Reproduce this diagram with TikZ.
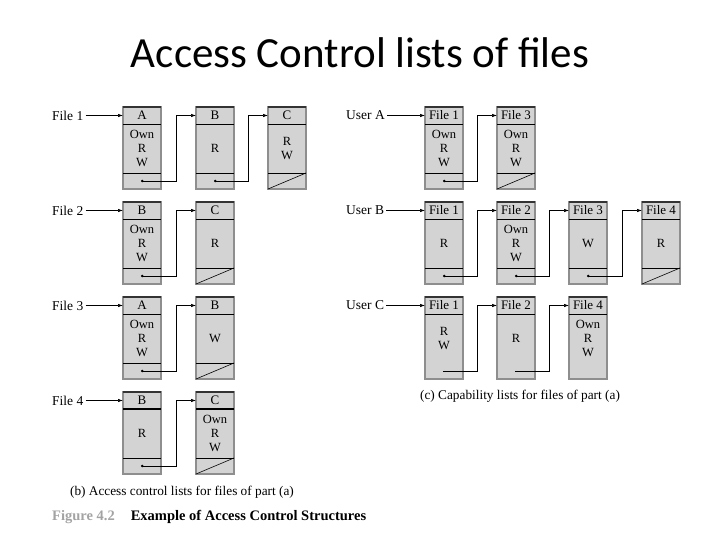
\documentclass[tikz,border=0pt]{standalone}
\usepackage{fontspec}
\setmainfont{Liberation Serif}
\newfontfamily\titlefont{Carlito}
\usepackage{tikz}
\usetikzlibrary{arrows.meta,calc}
\usepackage{xcolor}
\definecolor{CellGray}{HTML}{D3D3D3}
\definecolor{EdgeGray}{HTML}{8E8E8E}
\definecolor{CapGray}{HTML}{A3A3A3}

% one list entry: name, x, y of top, header, body, style of the tail line
\newcommand{\aclbox}[6]{%
  \node[boxframe,anchor=north west] (#1) at (#2,#3) {};
  \draw[topedge] (#1.north west) -- (#1.north east);
  \coordinate (#1-in) at ($(#1.north west)+(0,-8.5)$);
  \coordinate (#1-j) at ($(#1-in)+(-20,0)$);
  \coordinate (#1-d) at ($(#1.south)+(-1,8)$);
  \coordinate (#1-tr) at ($(#1.south east)+(0,16)$);
  \draw[divider] ($(#1.north west)+(0,-17)$) -- ($(#1.north east)+(0,-17)$);
  \draw[#6] ($(#1.south west)+(0,16)$) -- (#1-tr);
  \node[headtext] (#1-h) at ($(#1.north)+(0,-8.5)$) {#4};
  \node[celltext] (#1-b) at ($(#1.center)+(0,-0.5)$) {#5};
}

\begin{document}
\begin{tikzpicture}[x=1pt,y=1pt,>={Latex[length=5pt,width=3.5pt]},
  boxframe/.style={draw=EdgeGray,fill=CellGray,line width=1.4pt,outer sep=0pt,
    inner sep=0pt,minimum width=38pt,minimum height=82pt},
  topedge/.style={draw=black!80,line width=1.6pt},
  divider/.style={draw=black,line width=0.6pt},
  notail/.style={draw=none},
  headtext/.style={font=\fontsize{13}{14}\selectfont,inner sep=0pt},
  celltext/.style={align=center,font=\fontsize{12.5}{14}\selectfont,inner sep=0pt},
  lbl/.style={font=\fontsize{13.5}{15}\selectfont,inner sep=2pt},
  link/.style={line width=0.7pt,{Circle[length=2.4pt]}->},
  linknd/.style={line width=0.7pt,->},
  nilline/.style={line width=0.6pt},
  caption/.style={font=\fontsize{13.3}{15}\selectfont}]
\useasboundingbox (0,0) rectangle (720,540);

\node[font=\titlefont\fontsize{43}{48}\selectfont,anchor=base] (title) at (360,472) {Access Control lists of files};

% (b) access control lists
\aclbox{l11}{123}{433}{A}{Own\\R\\W}{divider}
\aclbox{l12}{196}{433}{B}{R}{divider}
\aclbox{l13}{268}{433}{C}{R\\W}{divider}
\aclbox{l21}{123}{338}{B}{Own\\R\\W}{divider}
\aclbox{l22}{196}{338}{C}{R}{divider}
\aclbox{l31}{123}{243}{A}{Own\\R\\W}{divider}
\aclbox{l32}{196}{243}{B}{W}{divider}
\aclbox{l41}{123}{148}{B}{R}{divider}
\aclbox{l42}{196}{148}{C}{Own\\R\\W}{divider}
\draw[divider,line width=1.5pt] ($(l41.north west)+(0,-17)$) -- ($(l41.north east)+(0,-17)$);
\draw[divider,line width=1.5pt] ($(l42.north west)+(0,-17)$) -- ($(l42.north east)+(0,-17)$);

\node[lbl,anchor=west] (f1) at (50,424.5) {File 1};
\node[lbl,anchor=west] (f2) at (50,329.5) {File 2};
\node[lbl,anchor=west] (f3) at (50,234.5) {File 3};
\node[lbl,anchor=west] (f4) at (50,139.5) {File 4};

\draw[->,line width=0.7pt] (f1) -- (l11-in);
\draw[->,line width=0.7pt] (f2) -- (l21-in);
\draw[->,line width=0.7pt] (f3) -- (l31-in);
\draw[->,line width=0.7pt] (f4) -- (l41-in);
\draw[link] (l11-d) -| (l12-j) -- (l12-in);
\draw[link] (l12-d) -| (l13-j) -- (l13-in);
\draw[link] (l21-d) -| (l22-j) -- (l22-in);
\draw[link] (l31-d) -| (l32-j) -- (l32-in);
\draw[link] (l41-d) -| (l42-j) -- (l42-in);
\draw[nilline] (l13.south west) -- (l13-tr);
\draw[nilline] (l22.south west) -- (l22-tr);
\draw[nilline] (l32.south west) -- (l32-tr);
\draw[nilline] (l42.south west) -- (l42-tr);

% (c) capability lists
\aclbox{c11}{425}{433}{File 1}{Own\\R\\W}{divider}
\aclbox{c12}{497}{433}{File 3}{Own\\R\\W}{divider}
\aclbox{c21}{425}{338}{File 1}{R}{divider}
\aclbox{c22}{497}{338}{File 2}{Own\\R\\W}{divider}
\aclbox{c23}{569}{338}{File 3}{W}{divider}
\aclbox{c24}{642}{338}{File 4}{R}{divider}
\aclbox{c31}{425}{243}{File 1}{R\\W}{notail}
\aclbox{c32}{497}{243}{File 2}{R}{notail}
\aclbox{c33}{569}{243}{File 4}{Own\\R\\W}{notail}

\node[lbl,anchor=west] (ua) at (344,424.5) {User A};
\node[lbl,anchor=west] (ub) at (344,329.5) {User B};
\node[lbl,anchor=west] (uc) at (344,234.5) {User C};

\draw[->,line width=0.7pt] (ua) -- (c11-in);
\draw[->,line width=0.7pt] (ub) -- (c21-in);
\draw[->,line width=0.7pt] (uc) -- (c31-in);
\draw[link] (c11-d) -| (c12-j) -- (c12-in);
\draw[link] (c21-d) -| (c22-j) -- (c22-in);
\draw[link] (c22-d) -| (c23-j) -- (c23-in);
\draw[link] (c23-d) -| (c24-j) -- (c24-in);
\draw[linknd] (c31-d) -| (c32-j) -- (c32-in);
\draw[linknd] (c32-d) -| (c33-j) -- (c33-in);
\draw[nilline] (c12.south west) -- (c12-tr);
\draw[nilline] (c24.south west) -- (c24-tr);

% captions
\node[caption] (capb) at (182,48) {(b) Access control lists for files of part (a)};
\node[caption] (capc) at (520,144) {(c) Capability lists for files of part (a)};
\node[anchor=west,inner sep=0pt,font=\fontsize{14.5}{16}\selectfont\bfseries] (fig) at (52,23)
  {{\color{CapGray}Figure 4.2}\hspace{16pt}Example of Access Control Structures};
\end{tikzpicture}
\end{document}
